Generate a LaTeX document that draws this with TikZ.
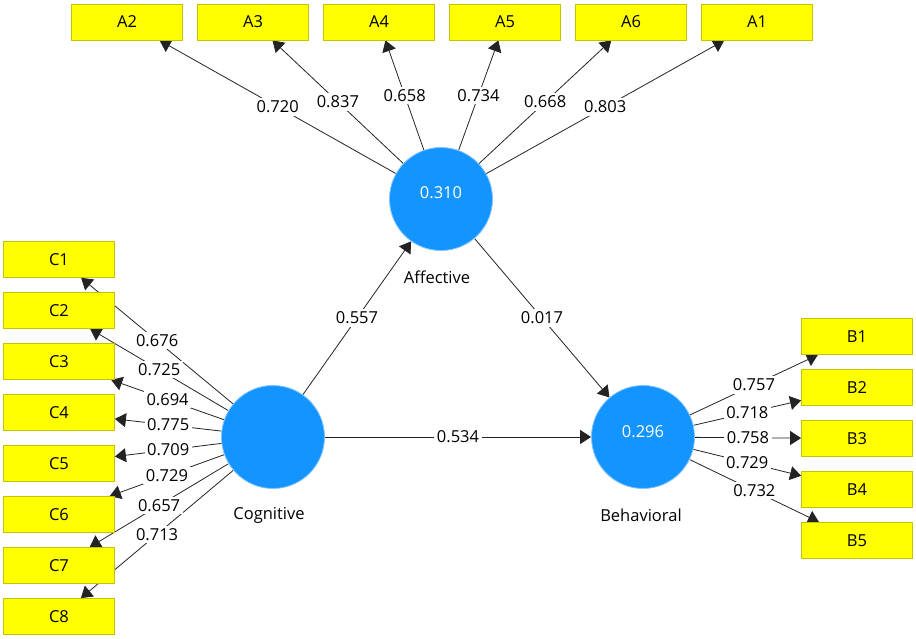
\documentclass[tikz,border=0pt]{standalone}
\usepackage{fontspec}
\setmainfont{Open Sans}
\usetikzlibrary{arrows.meta}
\definecolor{lvblue}{RGB}{20,148,255}
\definecolor{lvedge}{RGB}{130,195,255}
\definecolor{indfill}{RGB}{255,255,0}
\definecolor{indedge}{RGB}{195,195,0}
\definecolor{lnk}{RGB}{35,35,35}
\pgfdeclarelayer{bg}
\pgfdeclarelayer{lbl}
\pgfsetlayers{bg,lbl,main}
\newcommand{\pathwt}[3]{%
  \begin{pgfonlayer}{bg}\draw[lnkarrow] (#1) -- (#2);\end{pgfonlayer}%
  \begin{pgfonlayer}{lbl}\path (#1) -- node[wt]{#3} (#2);\end{pgfonlayer}}
\begin{document}
\begin{tikzpicture}[x=1pt,y=-1pt,
  font=\fontsize{16.5}{19}\selectfont,
  indbox/.style={draw=indedge, fill=indfill, minimum width=111pt, minimum height=36pt, inner sep=0pt, line width=0.8pt},
  lv/.style={circle, fill=lvblue, draw=lvedge, line width=0.8pt, minimum size=103pt, inner sep=0pt},
  lnkarrow/.style={draw=lnk, line width=0.8pt, -{Triangle[length=11pt,width=14pt]}},
  wt/.style={fill=white, inner sep=2.5pt, midway, text=black},
  lvtext/.style={text=white},
]
\useasboundingbox (0,0) rectangle (916,639);
% indicator boxes
\node[indbox] (A2) at (127,22) {A2};
\node[indbox] (A3) at (253,22) {A3};
\node[indbox] (A4) at (379,22) {A4};
\node[indbox] (A5) at (505,22) {A5};
\node[indbox] (A6) at (631,22) {A6};
\node[indbox] (A1) at (757,22) {A1};
\foreach \i in {1,...,8}{
  \node[indbox] (C\i) at (59,{259.5+51*(\i-1)}) {C\i};
}
\foreach \i in {1,...,5}{
  \node[indbox] (B\i) at (857,{336.5+51*(\i-1)}) {B\i};
}
% latent variables
\node[lv] (aff) at (441,199) {};
\node[lv] (cog) at (273,437) {};
\node[lv] (beh) at (643,437) {};
\node[lvtext] (afft) at (441,193) {0.310};
\node[lvtext] (beht) at (643,432) {0.296};
\node (affl) at (437,277) {Affective};
\node (cogl) at (269,515) {Cognitive};
\node (behl) at (641,515) {Behavioral};
% outer loadings
\pathwt{aff}{A2}{0.720}
\pathwt{aff}{A3}{0.837}
\pathwt{aff}{A4}{0.658}
\pathwt{aff}{A5}{0.734}
\pathwt{aff}{A6}{0.668}
\pathwt{aff}{A1}{0.803}
\pathwt{cog}{C1}{0.676}
\pathwt{cog}{C2}{0.725}
\pathwt{cog}{C3}{0.694}
\pathwt{cog}{C4}{0.775}
\pathwt{cog}{C5}{0.709}
\pathwt{cog}{C6}{0.729}
\pathwt{cog}{C7}{0.657}
\pathwt{cog}{C8}{0.713}
\pathwt{beh}{B1}{0.757}
\pathwt{beh}{B2}{0.718}
\pathwt{beh}{B3}{0.758}
\pathwt{beh}{B4}{0.729}
\pathwt{beh}{B5}{0.732}
% structural paths
\pathwt{cog}{aff}{0.557}
\pathwt{aff}{beh}{0.017}
\pathwt{cog}{beh}{0.534}
\end{tikzpicture}
\end{document}
